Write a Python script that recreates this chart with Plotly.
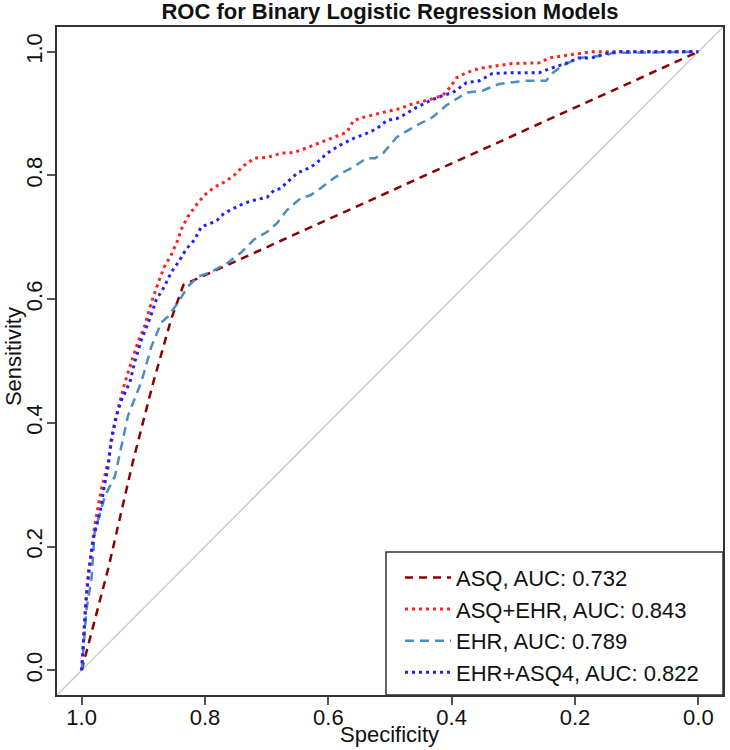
import plotly.graph_objects as go

# ROC curve points (specificity, sensitivity)
asq_spec = [1.0, 0.957, 0.917, 0.884, 0.855, 0.835, 0.0]
asq_sens = [0.0, 0.164, 0.337, 0.465, 0.567, 0.623, 1.0]

asq_ehr_spec = [1.0, 0.995, 0.989, 0.979, 0.968, 0.957, 0.949, 0.941, 0.930, 0.919,
                0.909, 0.898, 0.887, 0.876, 0.866, 0.855, 0.844, 0.839, 0.828, 0.812,
                0.801, 0.785, 0.769, 0.753, 0.737, 0.720, 0.699, 0.677, 0.656, 0.634,
                0.613, 0.591, 0.570, 0.559, 0.543, 0.511, 0.484, 0.463, 0.441, 0.415,
                0.403, 0.392, 0.376, 0.355, 0.328, 0.302, 0.258, 0.242, 0.215, 0.194,
                0.173, 0.0]
asq_ehr_sens = [0.0, 0.084, 0.159, 0.233, 0.293, 0.337, 0.385, 0.422, 0.465, 0.498,
                0.530, 0.556, 0.594, 0.626, 0.652, 0.671, 0.696, 0.712, 0.733, 0.755,
                0.768, 0.781, 0.789, 0.800, 0.816, 0.828, 0.829, 0.836, 0.837, 0.845,
                0.853, 0.862, 0.870, 0.889, 0.894, 0.902, 0.908, 0.916, 0.921, 0.929,
                0.942, 0.958, 0.966, 0.973, 0.977, 0.981, 0.982, 0.990, 0.994, 0.997,
                1.0, 1.0]

ehr_spec = [1.0, 0.995, 0.992, 0.984, 0.979, 0.962, 0.946, 0.933, 0.925, 0.903,
            0.887, 0.871, 0.860, 0.844, 0.828, 0.812, 0.790, 0.763, 0.742, 0.721,
            0.699, 0.683, 0.667, 0.645, 0.629, 0.613, 0.592, 0.576, 0.560, 0.538,
            0.524, 0.511, 0.489, 0.457, 0.431, 0.409, 0.376, 0.350, 0.323, 0.280,
            0.247, 0.237, 0.221, 0.194, 0.150, 0.140, 0.0]
ehr_sens = [0.0, 0.063, 0.100, 0.148, 0.224, 0.282, 0.314, 0.374, 0.411, 0.467,
            0.523, 0.562, 0.572, 0.594, 0.620, 0.636, 0.644, 0.659, 0.675, 0.696,
            0.709, 0.723, 0.744, 0.763, 0.768, 0.779, 0.795, 0.805, 0.813, 0.828,
            0.828, 0.836, 0.862, 0.881, 0.894, 0.913, 0.934, 0.937, 0.948, 0.953,
            0.953, 0.965, 0.977, 0.990, 0.994, 0.998, 1.0]

ehr_asq4_spec = [1.0, 0.997, 0.995, 0.992, 0.987, 0.981, 0.973, 0.968, 0.965, 0.957,
                 0.952, 0.944, 0.935, 0.922, 0.914, 0.903, 0.890, 0.879, 0.866, 0.855,
                 0.841, 0.831, 0.817, 0.806, 0.790, 0.780, 0.769, 0.753, 0.737, 0.720,
                 0.699, 0.688, 0.677, 0.667, 0.650, 0.629, 0.618, 0.602, 0.581, 0.559,
                 0.538, 0.521, 0.505, 0.489, 0.479, 0.457, 0.435, 0.415, 0.398, 0.387,
                 0.376, 0.355, 0.334, 0.302, 0.258, 0.237, 0.215, 0.194, 0.173, 0.150,
                 0.129, 0.0]
ehr_asq4_sens = [0.0, 0.052, 0.095, 0.127, 0.169, 0.213, 0.245, 0.266, 0.288, 0.330,
                 0.374, 0.411, 0.438, 0.465, 0.498, 0.535, 0.567, 0.599, 0.620, 0.643,
                 0.663, 0.680, 0.696, 0.717, 0.723, 0.728, 0.739, 0.747, 0.755, 0.760,
                 0.765, 0.776, 0.779, 0.789, 0.804, 0.813, 0.821, 0.836, 0.849, 0.860,
                 0.868, 0.876, 0.889, 0.892, 0.897, 0.910, 0.921, 0.929, 0.934, 0.942,
                 0.950, 0.953, 0.965, 0.966, 0.966, 0.974, 0.981, 0.990, 0.990, 0.997,
                 1.0, 1.0]

tick_vals = [0.0, 0.2, 0.4, 0.6, 0.8, 1.0]
tick_text = ["0.0", "0.2", "0.4", "0.6", "0.8", "1.0"]

FONT = "Liberation Sans, Arial, sans-serif"

fig = go.Figure()

fig.add_trace(go.Scatter(x=asq_spec, y=asq_sens, mode="lines",
                         name="ASQ, AUC: 0.732",
                         line=dict(color="#8B0000", width=2.5, dash="8px,6px")))
fig.add_trace(go.Scatter(x=asq_ehr_spec, y=asq_ehr_sens, mode="lines",
                         name="ASQ+EHR, AUC: 0.843",
                         line=dict(color="#FF2020", width=3, dash="3px,4px")))
fig.add_trace(go.Scatter(x=ehr_spec, y=ehr_sens, mode="lines",
                         name="EHR, AUC: 0.789",
                         line=dict(color="#4A8CC4", width=2.5, dash="9px,6px")))
fig.add_trace(go.Scatter(x=ehr_asq4_spec, y=ehr_asq4_sens, mode="lines",
                         name="EHR+ASQ4, AUC: 0.822",
                         line=dict(color="#2020FF", width=3, dash="3px,4px")))

# chance diagonal across the whole box (range is symmetric about spec + sens = 1)
fig.add_shape(type="line", xref="x domain", yref="y domain", x0=0, y0=0, x1=1, y1=1,
              line=dict(color="#CCCCCC", width=1.5), layer="below")

# legend frame
fig.add_shape(type="rect", xref="paper", yref="paper", x0=0.494, x1=1.0, y0=0.0, y1=0.214,
              line=dict(color="#333333", width=1.5), fillcolor="white", layer="above")

axis_common = dict(
    tickvals=tick_vals, ticktext=tick_text,
    ticks="outside", ticklen=8, tickwidth=1.5, tickcolor="#555555",
    showline=True, linecolor="#333333", linewidth=1.5, mirror=True,
    showgrid=False, zeroline=False,
    tickfont=dict(family=FONT, size=22, color="#111111"),
)

fig.update_layout(
    width=730, height=750,
    margin=dict(l=57, r=5, t=27, b=55),
    paper_bgcolor="white", plot_bgcolor="white",
    font=dict(family=FONT, color="#111111"),
    title=dict(text="<b>ROC for Binary Logistic Regression Models</b>",
               x=0.5, xref="paper", xanchor="center",
               y=1 - 11.5 / 750, yref="container", yanchor="middle",
               font=dict(family=FONT, size=22, color="#111111")),
    xaxis=dict(range=[1.04, -0.04], ticklabelstandoff=-6, **axis_common),
    yaxis=dict(range=[-0.04, 1.04], tickangle=-90, ticklabelstandoff=-4, **axis_common),
    showlegend=True,
    legend=dict(x=0.515, xanchor="left", y=0.207, yanchor="top",
                bgcolor="rgba(0,0,0,0)", borderwidth=0,
                font=dict(family=FONT, size=22, color="#111111"),
                itemwidth=46, tracegroupgap=0),
    annotations=[
        dict(text="Specificity", xref="paper", yref="paper", x=0.4985, y=-(734 - 695) / 668,
             xanchor="center", yanchor="middle", showarrow=False,
             font=dict(family=FONT, size=22, color="#111111")),
        dict(text="Sensitivity", xref="paper", yref="paper", x=(14 - 57) / 668, y=0.506,
             xanchor="center", yanchor="middle", showarrow=False, textangle=-90,
             font=dict(family=FONT, size=22, color="#111111")),
    ],
)

# drop the browser's default 8px body margin so the figure fills the window exactly
fig.write_html("out.html", config={"displayModeBar": False},
               post_script="document.body.style.margin = '0';")
